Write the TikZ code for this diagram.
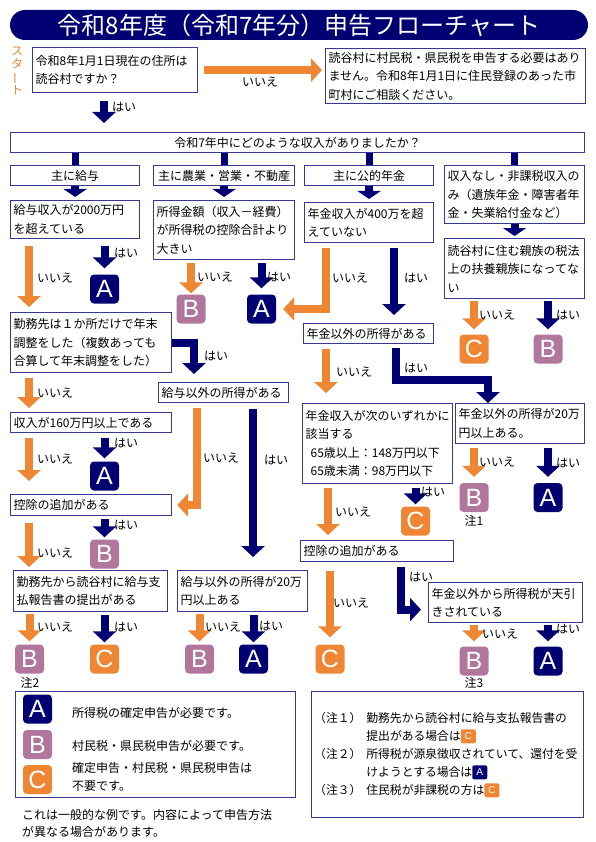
\documentclass[tikz,border=0pt]{standalone}
\usepackage{fontspec}
\usepackage{graphicx}
\setmainfont{Noto Sans CJK JP}
\newfontfamily\badgefont{Liberation Sans}
\usetikzlibrary{arrows.meta,positioning,calc}
\definecolor{navy}{RGB}{0,0,115}
\definecolor{orng}{RGB}{238,134,51}
\definecolor{mauve}{RGB}{176,118,155}
\definecolor{boxline}{RGB}{55,55,150}
\newcommand{\minibadge}[2]{\tikz[baseline=-4.5pt]\node[anchor=center, fill=#1, rounded corners=2pt, minimum width=15pt, minimum height=14pt, inner sep=0pt, text=white, font=\badgefont\fontsize{10}{10}\selectfont] {#2};}

\begin{document}
\begin{tikzpicture}[x=1pt, y=-1pt,
  font=\fontsize{12}{18.5}\selectfont,
  qbox/.style={draw=boxline, line width=1.2pt, fill=white, anchor=north west, align=left, inner xsep=3pt, inner ysep=2pt},
  cbox/.style={qbox, align=center},
  badge/.style={rounded corners=4pt, minimum width=29pt, minimum height=29pt, inner sep=0pt, text=white, font=\badgefont\fontsize{25}{25}\selectfont},
  bA/.style={badge, fill=navy},
  bB/.style={badge, fill=mauve},
  bC/.style={badge, fill=orng},
  ans/.style={inner sep=0pt},
  oarr/.style={draw=orng, line width=8pt, -{Triangle[width=23pt,length=11pt]}},
  narr/.style={draw=navy, line width=8pt, -{Triangle[width=23pt,length=11pt]}},
  nshort/.style={draw=navy, line width=8pt, -{Triangle[width=23pt,length=8pt]}},
  nstub/.style={draw=navy, line width=7pt}
]
\useasboundingbox (0,0) rectangle (595,842);

% Title bar
\node[fill=navy, rounded corners=15pt, minimum width=578pt, minimum height=30pt, text=white,
      font=\fontsize{24}{24}\selectfont] (title) at (299,25) {令和8年度（令和7年分）申告フローチャート};
\node[text=orng, align=center, inner sep=0pt, font=\fontsize{12}{12.5}\selectfont]
  (start) at (17,71) {ス\\タ\\\rotatebox[origin=c]{90}{ー}\\ト};

% Start question
\node[qbox, text width=159pt, minimum height=45pt] (q_addr) at (32,47) {令和8年1月1日現在の住所は\\読谷村ですか？};
\node[qbox, text width=254pt, minimum height=55pt] (q_out) at (325,48)
  {読谷村に村民税・県民税を申告する必要はあり\\ません。令和8年1月1日に住民登録のあった市\\町村にご相談ください。};
\node[cbox, text width=568pt, minimum height=20pt] (q_inc) at (10,132) {令和7年中にどのような収入がありましたか？};

% Income categories
\node[cbox, text width=123pt, minimum height=20pt] (c_sal) at (10,165) {主に給与};
\node[cbox, text width=135pt, minimum height=20pt] (c_biz) at (153,165) {主に農業・営業・不動産};
\node[cbox, text width=123pt, minimum height=20pt] (c_pen) at (304,165) {主に公的年金};
\node[qbox, text width=134pt, minimum height=58pt] (c_none) at (444,165)
  {収入なし・非課税収入の\\み（遺族年金・障害者年\\金・失業給付金など）};

% Questions
\node[qbox, text width=123pt, minimum height=38pt] (q_sal2000) at (10,200) {給与収入が2000万円\\を超えている};
\node[qbox, text width=135pt, minimum height=59pt] (q_biz) at (153,200) {所得金額（収入－経費）\\が所得税の控除合計より\\大きい};
\node[qbox, text width=123pt, minimum height=40pt] (q_pen400) at (304,202) {年金収入が400万を超\\えていない};
\node[qbox, text width=134pt, minimum height=60pt] (q_dep) at (444,238) {読谷村に住む親族の税法\\上の扶養親族になってな\\い};
\node[qbox, text width=155pt, minimum height=60pt] (q_one) at (10,312)
  {勤務先は１か所だけで年末\\調整をした（複数あっても\\合算して年末調整をした）};
\node[qbox, text width=124pt, minimum height=20pt] (q_pen_other) at (303,323) {年金以外の所得がある};
\node[qbox, text width=124pt, minimum height=20pt] (q_sal_other) at (158,382) {給与以外の所得がある};
\node[qbox, text width=155pt, minimum height=20pt] (q_160) at (10,412) {収入が160万円以上である};
\node[qbox, text width=144pt, minimum height=80pt] (q_pen_lim) at (302,403)
  {年金収入が次のいずれかに\\該当する\\\hspace*{5pt}65歳以上：148万円以下\\\hspace*{5pt}65歳未満：98万円以下};
\node[qbox, text width=123pt, minimum height=40pt] (q_pen20) at (455,403) {年金以外の所得が20万\\円以上ある。};
\node[qbox, text width=155pt, minimum height=21pt] (q_ded1) at (10,494) {控除の追加がある};
\node[qbox, text width=147pt, minimum height=21pt] (q_ded2) at (300,540) {控除の追加がある};
\node[qbox, text width=148pt, minimum height=41pt] (q_report) at (13,570) {勤務先から読谷村に給与支\\払報告書の提出がある};
\node[qbox, text width=124pt, minimum height=41pt] (q_sal20) at (177,570) {給与以外の所得が20万\\円以上ある};
\node[qbox, text width=148pt, minimum height=40pt] (q_withheld) at (428,582) {年金以外から所得税が天引\\きされている};

% Result badges
\node[bA] (bA1) at (104.5,289) {A};
\node[bB] (bB2) at (191,309) {B};
\node[bA] (bA3) at (261.5,309) {A};
\node[bC] (bC4) at (474,349) {C};
\node[bB] (bB5) at (548,349) {B};
\node[bA] (bA6) at (104.5,476) {A};
\node[bB] (bB7) at (104.5,554) {B};
\node[bB] (bB8) at (29.5,659) {B};
\node[bC] (bC9) at (104.5,659) {C};
\node[bB] (bB10) at (199.5,659) {B};
\node[bA] (bA11) at (253.5,659) {A};
\node[bB] (bB12) at (474,497.5) {B};
\node[bA] (bA13) at (548,497.5) {A};
\node[bC] (bC14) at (415.5,521) {C};
\node[bC] (bC15) at (330,659) {C};
\node[bB] (bB16) at (474,661) {B};
\node[bA] (bA17) at (548,661) {A};
\node[ans] (n1) at (474,521) {注1};
\node[ans] (n2) at (30,683) {注2};
\node[ans] (n3) at (474,683) {注3};

% Start arrows
\draw[oarr, shorten <=6pt, shorten >=3pt] (q_addr.east) -- (q_addr.east -| q_out.west);
\coordinate (k0) at ([xshift=72pt]q_addr.south west);
\draw[narr, shorten <=8pt, shorten >=9pt] (k0) -- (k0 |- q_inc.north);

% Stubs to categories
\draw[nstub] (q_inc.south -| c_sal) -- (c_sal.north);
\draw[nstub] (q_inc.south -| c_biz) -- (c_biz.north);
\draw[nstub] (q_inc.south -| c_pen) -- (c_pen.north);
\draw[nstub] (q_inc.south -| c_none) -- (c_none.north);
\draw[nshort, shorten >=3pt] (c_sal.south) -- (q_sal2000.north);
\draw[nshort, shorten >=3pt] (c_biz.south) -- (q_biz.north);
\draw[nshort, shorten >=3pt] (c_pen.south) -- (q_pen400.north);
\draw[nshort, shorten >=2pt] (c_none.south) -- (q_dep.north);

% Salary branch
\coordinate (k1) at ([xshift=19pt]q_sal2000.south west);
\draw[oarr, shorten <=7pt, shorten >=5pt] (k1) -- (k1 |- q_one.north);
\draw[narr, shorten <=7pt, shorten >=6pt] (q_sal2000.south -| bA1) -- (bA1.north);
\coordinate (k4) at ([xshift=19pt]q_one.south west);
\draw[oarr, shorten <=5pt, shorten >=4pt] (k4) -- (k4 |- q_160.north);
\coordinate (k5) at ([xshift=36pt]q_sal_other.north west);
\draw[narr, shorten >=8pt] (q_one.east) -| (k5);
\coordinate (k6) at ([xshift=19pt]q_160.south west);
\draw[oarr, shorten <=5pt, shorten >=13pt] (k6) -- (k6 |- q_ded1.north);
\draw[narr, shorten <=5pt, shorten >=3pt] (q_160.south -| bA6) -- (bA6.north);
\coordinate (k7) at ([xshift=39pt]q_sal_other.south west);
\draw[oarr, shorten <=5pt, shorten >=5pt] (k7) |- (q_ded1.east);
\coordinate (k8) at ([xshift=95pt]q_sal_other.south west);
\draw[narr, shorten <=6pt, shorten >=13pt] (k8) -- (k8 |- q_sal20.north);
\coordinate (k9) at ([xshift=19pt]q_ded1.south west);
\draw[oarr, shorten <=7pt, shorten >=3pt] (k9) -- (k9 |- q_report.north);
\draw[narr, shorten <=3pt, shorten >=2pt] (q_ded1.south -| bB7) -- (bB7.north);
\draw[oarr, shorten <=2pt, shorten >=3pt] (q_report.south -| bB8) -- (bB8.north);
\draw[narr, shorten <=3pt, shorten >=2pt] (q_report.south -| bC9) -- (bC9.north);
\draw[oarr, shorten <=2pt, shorten >=3pt] (q_sal20.south -| bB10) -- (bB10.north);
\draw[narr, shorten <=3pt, shorten >=2pt] (q_sal20.south -| bA11) -- (bA11.north);

% Business branch
\draw[oarr, shorten <=3pt, shorten >=1pt] (q_biz.south -| bB2) -- (bB2.north);
\draw[narr, shorten <=3pt, shorten >=6pt] (q_biz.south -| bA3) -- (bA3.north);

% Pension branch
\coordinate (k2) at ([xshift=21.5pt]q_pen400.south west);
\draw[oarr, shorten <=5pt, shorten >=7pt] (k2) |- (bA3.east);
\coordinate (k3) at ([xshift=90pt]q_pen400.south west);
\draw[narr, shorten <=5pt, shorten >=8pt] (k3) -- (k3 |- q_pen_other.north);
\coordinate (k10) at ([xshift=23pt]q_pen_other.south west);
\draw[oarr, shorten <=5pt, shorten >=10pt] (k10) -- (k10 |- q_pen_lim.north);
\coordinate (k11) at ([xshift=93pt]q_pen_other.south west);
\coordinate (k12) at ([xshift=33pt]q_pen20.north west);
\draw[narr, shorten <=4pt] (k11) |- ([yshift=23pt]k12) -- (k12);
\draw[oarr, shorten <=4pt, shorten >=6pt] (q_pen20.south -| bB12) -- (bB12.north);
\draw[narr, shorten <=4pt, shorten >=6pt] (q_pen20.south -| bA13) -- (bA13.north);
\coordinate (k13) at ([xshift=26pt]q_pen_lim.south west);
\draw[oarr, shorten <=4pt, shorten >=5pt] (k13) -- (k13 |- q_ded2.north);
\draw[narr, shorten <=4pt, shorten >=2pt] (q_pen_lim.south -| bC14) -- (bC14.north);
\draw[oarr, shorten <=9pt, shorten >=7pt] (q_ded2.south -| bC15) -- (bC15.north);
\coordinate (k15) at ([xshift=101pt]q_ded2.south west);
\coordinate (k16) at ([yshift=-7pt]q_withheld.west);
\draw[narr, shorten <=5pt, shorten >=7pt] (k15) |- (k16);
\draw[oarr, shorten <=2pt, shorten >=5pt] (q_withheld.south -| bB16) -- (bB16.north);
\draw[narr, shorten <=2pt, shorten >=5pt] (q_withheld.south -| bA17) -- (bA17.north);

% No dependents branch
\draw[oarr, shorten <=2pt, shorten >=5pt] (q_dep.south -| bC4) -- (bC4.north);
\draw[narr, shorten <=2pt, shorten >=5pt] (q_dep.south -| bB5) -- (bB5.north);

% Yes / no labels
\node[ans] (l0) at (260,82) {いいえ};
\node[ans] (l1) at (124,107) {はい};
\node[ans] (l2) at (55,278) {いいえ};
\node[ans] (l3) at (126,253) {はい};
\node[ans] (l4) at (215,277) {いいえ};
\node[ans] (l5) at (279,277) {はい};
\node[ans] (l6) at (350,278) {いいえ};
\node[ans] (l7) at (416,278) {はい};
\node[ans] (l8) at (497,315) {いいえ};
\node[ans] (l9) at (568,315) {はい};
\node[ans] (l10) at (55,393) {いいえ};
\node[ans] (l11) at (216,356) {はい};
\node[ans] (l12) at (55,459) {いいえ};
\node[ans] (l13) at (126,443) {はい};
\node[ans] (l14) at (221,458) {いいえ};
\node[ans] (l15) at (276,460) {はい};
\node[ans] (l16) at (55,553) {いいえ};
\node[ans] (l17) at (126,525) {はい};
\node[ans] (l18) at (55,627) {いいえ};
\node[ans] (l19) at (126,627) {はい};
\node[ans] (l20) at (223,627) {いいえ};
\node[ans] (l21) at (271,626) {はい};
\node[ans] (l22) at (354,372) {いいえ};
\node[ans] (l23) at (416,368) {はい};
\node[ans] (l24) at (497,462) {いいえ};
\node[ans] (l25) at (568,463) {はい};
\node[ans] (l26) at (353,512) {いいえ};
\node[ans] (l27) at (433,492) {はい};
\node[ans] (l28) at (351,603) {いいえ};
\node[ans] (l29) at (421,577) {はい};
\node[ans] (l30) at (500,634) {いいえ};
\node[ans] (l31) at (568,629) {はい};

% Key
\node[draw=boxline, line width=1.2pt, anchor=north west, minimum width=280pt, minimum height=106pt] (key) at (15,691) {};
\node[bA] (kA) at (37.5,709) {A};
\node[bB] (kB) at (37.5,744.5) {B};
\node[bC] (kC) at (37.5,779.5) {C};
\node[anchor=west, inner sep=0pt] (kA_t) at (72,713) {所得税の確定申告が必要です。};
\node[anchor=west, inner sep=0pt] (kB_t) at (72,746) {村民税・県民税申告が必要です。};
\node[anchor=west, inner sep=0pt, align=left] (kC_t) at (72,777) {確定申告・村民税・県民税申告は\\不要です。};
\node[anchor=west, inner sep=0pt, align=left, font=\fontsize{12}{17}\selectfont] (remark) at (22,823.5)
  {これは一般的な例です。内容によって申告方法\\が異なる場合があります。};

% Notes
\node[draw=boxline, line width=1.2pt, anchor=north west, minimum width=272pt, minimum height=126pt] (notes) at (311,691) {};
\node[anchor=north west, inner sep=0pt, font=\fontsize{11.8}{18}\selectfont] (notes_t) at (314,710)
  {\begin{tabular}{@{}l@{\hspace{5pt}}l@{}}
   （注１）& 勤務先から読谷村に給与支払報告書の\\
           & 提出がある場合は\minibadge{orng}{C}\\
   （注２）& 所得税が源泉徴収されていて、還付を受\\
           & けようとする場合は\minibadge{navy}{A}\\
   （注３）& 住民税が非課税の方は\minibadge{orng}{C}
   \end{tabular}};
\end{tikzpicture}
\end{document}
